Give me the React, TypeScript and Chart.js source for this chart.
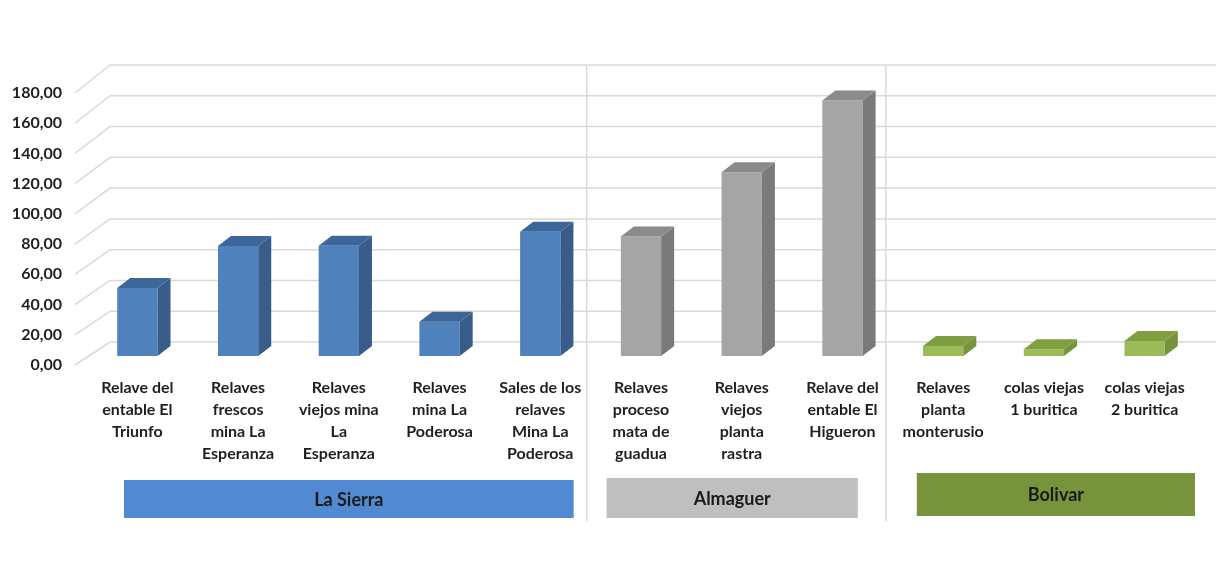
import React, { useEffect, useRef } from "react";
import { Chart, registerables } from "chart.js";

Chart.register(...registerables);

// ---------- data ----------
const categories: string[][] = [
  ["Relave del", "entable El", "Triunfo"],
  ["Relaves", "frescos", "mina La", "Esperanza"],
  ["Relaves", "viejos mina", "La", "Esperanza"],
  ["Relaves", "mina La", "Poderosa"],
  ["Sales de los", "relaves", "Mina La", "Poderosa"],
  ["Relaves", "proceso", "mata de", "guadua"],
  ["Relaves", "viejos", "planta", "rastra"],
  ["Relave del", "entable El", "Higueron"],
  ["Relaves", "planta", "monterusio"],
  ["colas viejas", "1 buritica"],
  ["colas viejas", "2 buritica"],
];
const values: number[] = [45, 72.8, 73, 22.7, 82.3, 79, 121.6, 169, 6.6, 4.4, 9.9];
const groupNames: string[] = ["La Sierra", "Almaguer", "Bolivar"];
const groupFirst: number[] = [0, 5, 8];
const groupLast: number[] = [4, 7, 10];
const yTicks: number[] = [0, 20, 40, 60, 80, 100, 120, 140, 160, 180];

// ---------- styles ----------
const FRONT = ["#4F81BD", "#A5A5A5", "#9BBB59"];
const SIDE = ["#385D8A", "#7A7A7A", "#76923C"];
const TOP = ["#3D679A", "#8A8A8A", "#7E9E40"];
const BOX = ["#518AD2", "#BFBFBF", "#77933C"];
const BOX_INSET_L = [37, 16, 24];
const BOX_INSET_R = [17, 35, 0];
const BOX_TOP = [480, 478, 473];
const BOX_BOTTOM = [518, 518, 516];
const SEP_NUDGE = [-4, -7];
const FONT = "Lato, 'Noto Sans', sans-serif";
const BAR_DX = 13;
const BAR_DY = -10;
const WALL_DX = 23;
const WALL_DY = -14;
const GRID = "#D9D9D9";

function groupOf(i: number): number {
  for (let g = 0; g < groupFirst.length; g++) if (i >= groupFirst[g] && i <= groupLast[g]) return g;
  return 0;
}

const threeD = {
  id: "threeD",
  beforeDatasetsDraw(chart: any) {
    const { ctx, chartArea, scales } = chart;
    const y = scales.y;
    const x = scales.x;
    const wallY = (v: number) => y.getPixelForValue(v) + WALL_DY - 5 * (v / 180);
    ctx.save();
    ctx.strokeStyle = GRID;
    ctx.lineWidth = 1.5;
    for (const v of yTicks) {
      const wy = wallY(v);
      ctx.beginPath();
      ctx.moveTo(chartArea.left - 12, y.getPixelForValue(v) + 9);
      ctx.lineTo(chartArea.left + WALL_DX, wy);
      ctx.lineTo(chart.width, wy);
      ctx.stroke();
    }
    for (let g = 0; g < groupFirst.length - 1; g++) {
      const bx = x.getPixelForValue(groupLast[g] + 0.5) + SEP_NUDGE[g];
      ctx.beginPath();
      ctx.moveTo(bx, wallY(180));
      ctx.lineTo(bx, 521);
      ctx.stroke();
    }
    ctx.restore();
  },
  afterDatasetsDraw(chart: any) {
    const { ctx } = chart;
    const meta = chart.getDatasetMeta(0);
    ctx.save();
    meta.data.forEach((bar: any, i: number) => {
      const p = bar.getProps(["x", "y", "base", "width"], true);
      const l = p.x - p.width / 2;
      const r = p.x + p.width / 2;
      const t = p.y;
      const b = p.base;
      const g = groupOf(i);
      ctx.fillStyle = SIDE[g];
      ctx.beginPath();
      ctx.moveTo(r, t);
      ctx.lineTo(r + BAR_DX, t + BAR_DY);
      ctx.lineTo(r + BAR_DX, b + BAR_DY);
      ctx.lineTo(r, b);
      ctx.closePath();
      ctx.fill();
      ctx.fillStyle = TOP[g];
      ctx.beginPath();
      ctx.moveTo(l, t);
      ctx.lineTo(l + BAR_DX, t + BAR_DY);
      ctx.lineTo(r + BAR_DX, t + BAR_DY);
      ctx.lineTo(r, t);
      ctx.closePath();
      ctx.fill();
    });
    ctx.restore();
  },
  afterDraw(chart: any) {
    const { ctx, scales } = chart;
    const x = scales.x;
    const half = (x.getPixelForValue(1) - x.getPixelForValue(0)) / 2;
    ctx.save();
    for (let g = 0; g < groupNames.length; g++) {
      const l = x.getPixelForValue(groupFirst[g]) - half + BOX_INSET_L[g];
      const r = x.getPixelForValue(groupLast[g]) + half - BOX_INSET_R[g];
      ctx.fillStyle = BOX[g];
      ctx.fillRect(l, BOX_TOP[g], r - l, BOX_BOTTOM[g] - BOX_TOP[g]);
      ctx.fillStyle = "#1A1A1A";
      ctx.font = `bold 18px ${FONT}`;
      ctx.textAlign = "center";
      ctx.textBaseline = "middle";
      ctx.fillText(groupNames[g], (l + r) / 2, (BOX_TOP[g] + BOX_BOTTOM[g]) / 2 + 1);
    }
    ctx.restore();
  },
};

export default function App() {
  const ref = useRef<HTMLCanvasElement | null>(null);
  useEffect(() => {
    if (!ref.current) return;
    const barColors = values.map((_, i) => FRONT[groupOf(i)]);
    const chart = new Chart(ref.current, {
      type: "bar",
      data: {
        labels: categories,
        datasets: [
          {
            data: values,
            backgroundColor: barColors,
            borderWidth: 0,
            barPercentage: 0.4,
            categoryPercentage: 1,
          },
        ],
      },
      options: {
        responsive: true,
        maintainAspectRatio: false,
        animation: false,
        layout: { padding: { top: 84, right: 21, left: 0, bottom: 0 } },
        plugins: { legend: { display: false }, tooltip: { enabled: false } },
        scales: {
          x: {
            grid: { display: false },
            border: { display: false },
            ticks: {
              color: "#1F1F1F",
              font: { family: FONT, weight: "bold", size: 16, lineHeight: 1.375 },
              padding: 13,
              maxRotation: 0,
              minRotation: 0,
              autoSkip: false,
            },
            afterFit: (s: any) => {
              s.height = 218;
            },
          },
          y: {
            min: 0,
            max: 180,
            grid: { display: false },
            border: { display: false },
            ticks: {
              stepSize: 20,
              color: "#1F1F1F",
              font: { family: FONT, weight: "bold", size: 16 },
              padding: 17,
              labelOffset: 9,
              callback: (v: any) => Number(v).toFixed(2).replace(".", ","),
            },
            afterFit: (s: any) => {
              s.width = 87;
            },
          },
        },
      },
      plugins: [threeD],
    });
    return () => chart.destroy();
  }, []);
  return (
    <div style={{ position: "fixed", left: 0, top: 0, width: 1216, height: 574, background: "#fff" }}>
      <canvas ref={ref} />
    </div>
  );
}
